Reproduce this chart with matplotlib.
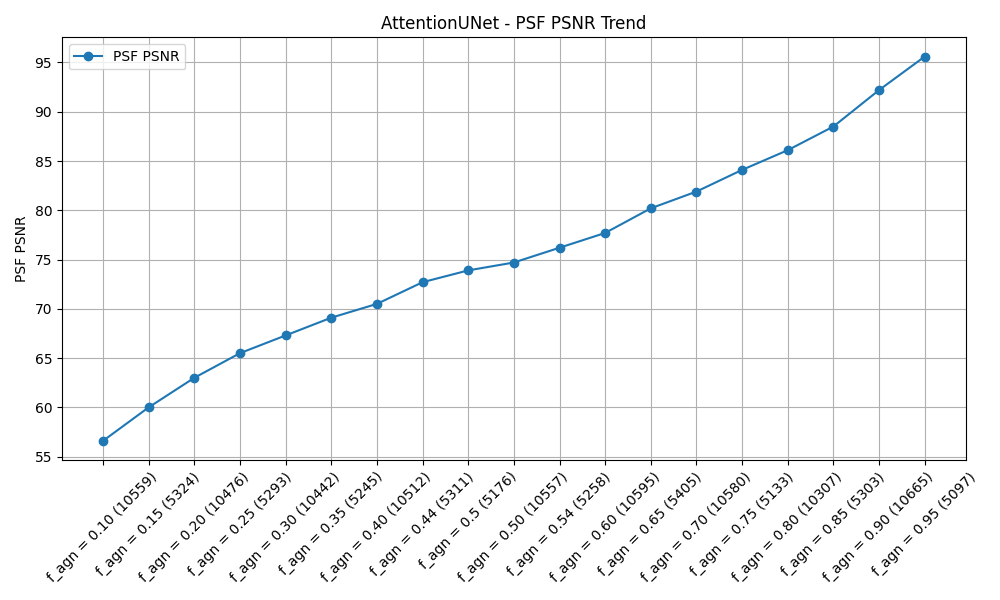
import matplotlib
matplotlib.use("Agg")
import matplotlib.pyplot as plt

labels = ["f_agn = 0.10 (10559)", "f_agn = 0.15 (5324)", "f_agn = 0.20 (10476)", "f_agn = 0.25 (5293)",
          "f_agn = 0.30 (10442)", "f_agn = 0.35 (5245)", "f_agn = 0.40 (10512)", "f_agn = 0.44 (5311)",
          "f_agn = 0.5 (5176)", "f_agn = 0.50 (10557)", "f_agn = 0.54 (5258)", "f_agn = 0.60 (10595)",
          "f_agn = 0.65 (5405)", "f_agn = 0.70 (10580)", "f_agn = 0.75 (5133)", "f_agn = 0.80 (10307)",
          "f_agn = 0.85 (5303)", "f_agn = 0.90 (10665)", "f_agn = 0.95 (5097)"]
psnr = [56.6, 60.0, 63.0, 65.5, 67.3, 69.1, 70.5, 72.7, 73.9, 74.7, 76.2, 77.7,
        80.2, 81.9, 84.1, 86.1, 88.5, 92.2, 95.6]

fig, ax = plt.subplots(figsize=(10, 6), dpi=100)
ax.plot(labels, psnr, marker='o', label='PSF PSNR')
ax.set_title('AttentionUNet - PSF PSNR Trend')
ax.set_ylabel('PSF PSNR')
ax.grid(True)
ax.legend(loc='upper left')
plt.xticks(rotation=45)
plt.tight_layout()
plt.savefig('out.png')
